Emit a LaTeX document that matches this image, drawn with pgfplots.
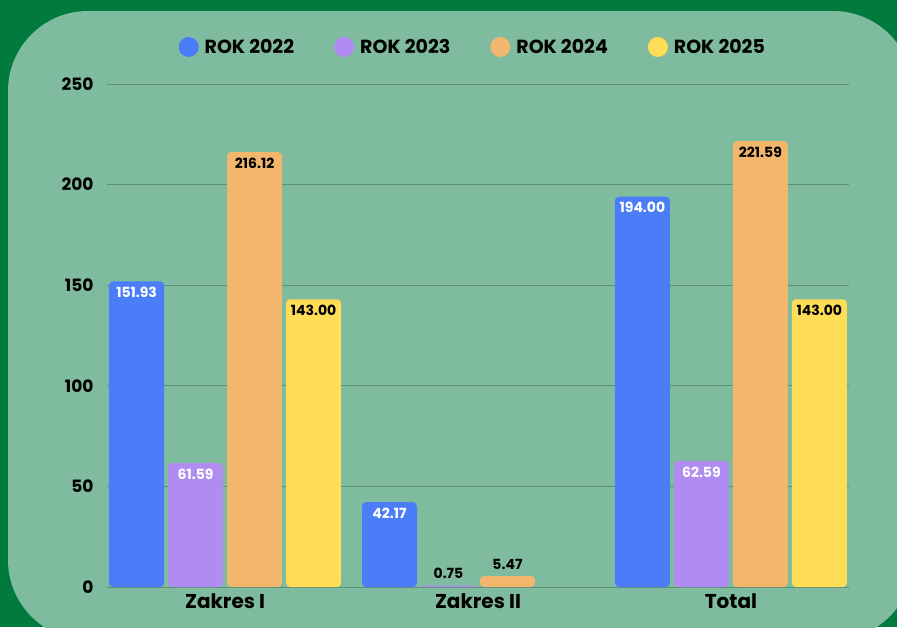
\documentclass[border=0pt]{standalone}
\usepackage{pgfplots}
\pgfplotsset{compat=1.18}
\usepackage{fontspec}
\setmainfont{Poppins}
\definecolor{bgdark}{HTML}{007A3D}
\definecolor{bglight}{HTML}{7FBB9E}
\definecolor{c22}{HTML}{4A7DF7}
\definecolor{c23}{HTML}{B08CF2}
\definecolor{c24}{HTML}{F2B76C}
\definecolor{c25}{HTML}{FFDD57}
\definecolor{gridc}{HTML}{5E8F77}

\begin{document}
\begin{tikzpicture}[x=1pt,y=1pt]
\useasboundingbox (0,0) rectangle (897,-627);
\fill[bgdark] (0,0) rectangle (897,-627);
\fill[bglight, rounded corners=80pt] (8,-11) rectangle (913,-640);
\begin{axis}[
  at={(107pt,-587pt)}, anchor=south west,
  scale only axis, width=742pt, height=503pt,
  ybar=4pt, bar width=55pt,
  xmin=-0.467, xmax=2.467, ymin=0, ymax=250,
  xtick={0,1,2},
  xticklabels={Zakres I, Zakres II, Total},
  ytick={0,50,...,250},
  axis line style={draw=none}, major tick length=0pt,
  ymajorgrids, grid style={gridc, line width=0.8pt},
  yticklabel style={font=\bfseries\fontsize{17}{20}\selectfont, xshift=-10pt},
  xticklabel style={font=\bfseries\fontsize{20}{24}\selectfont, yshift=-3pt},
  /pgf/number format/assume math mode=true,
  legend columns=4,
  legend image code/.code={\fill[#1] (6pt,0pt) circle (10pt);},
  legend style={at={(0.493,1.0736)}, anchor=center, draw=none, fill=none,
    font=\bfseries\fontsize{19}{22}\selectfont,
    /tikz/every odd column/.append style={column sep=4pt},
    /tikz/every even column/.append style={column sep=38pt}},
  visualization depends on={rawy \as \rawy},
  nodes near coords={\ifdim\rawy pt<20pt\color{black}\fi\pgfmathprintnumber[fixed,fixed zerofill,precision=2]{\pgfplotspointmeta}},
  every node near coord/.append style={font=\bfseries\fontsize{14}{16}\selectfont,
    anchor=center, yshift={ifthenelse(\rawy<20,12,-11)*1pt}},
]
\addplot[draw=none, fill=c22, rounded corners=4pt,
  every node near coord/.append style={text=white}]
  coordinates {(0,151.93) (1,42.17) (2,194.00)};
\addplot[draw=none, fill=c23, rounded corners=4pt,
  every node near coord/.append style={text=white}]
  coordinates {(0,61.59) (1,0.75) (2,62.59)};
\addplot[draw=none, fill=c24, rounded corners=4pt]
  coordinates {(0,216.12) (1,5.47) (2,221.59)};
\addplot[draw=none, fill=c25, rounded corners=4pt]
  coordinates {(0,143.00) (2,143.00)};
\legend{ROK 2022, ROK 2023, ROK 2024, ROK 2025}
\end{axis}
\end{tikzpicture}
\end{document}
